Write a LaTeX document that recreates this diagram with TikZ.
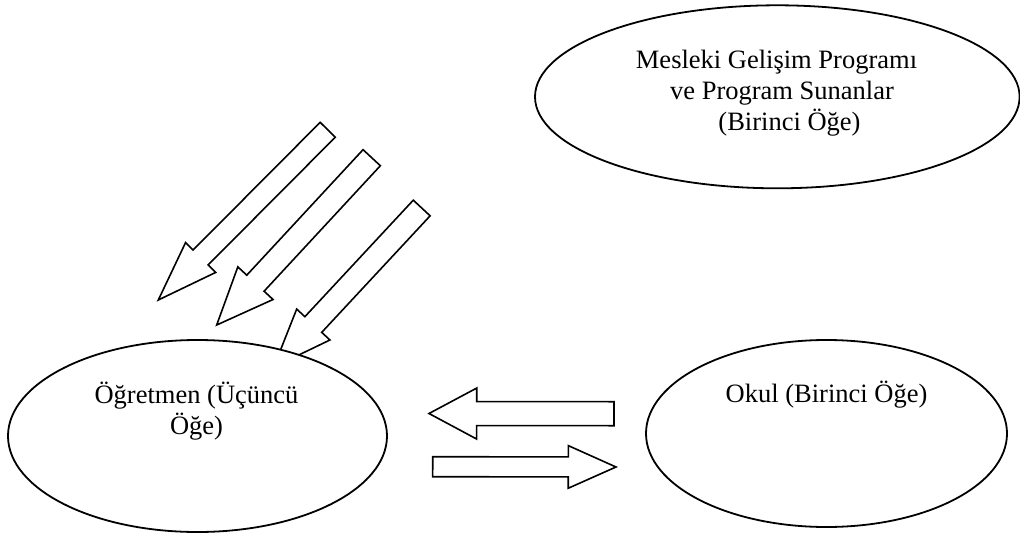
\documentclass[tikz,border=0pt]{standalone}
\usepackage{fontspec}
\setmainfont{Liberation Serif}
\usetikzlibrary{shapes.geometric,calc}

\tikzset{
  oval/.style={draw, ellipse, line width=1.8pt, fill=white, inner sep=0pt},
  ovaltext/.style={align=center, inner sep=0pt, anchor=base,
    font=\fontsize{26.5}{31}\selectfont},
  blockarrow/.style={draw, line width=1.6pt, fill=white, line join=miter},
}

% block arrow: tail, tip, half shaft width, half head width, head length
\newcommand{\fatarrow}[5]{%
  \coordinate (neck) at ($(#2)!#5!(#1)$);
  \draw[blockarrow] ($(#1)!#3!90:(#2)$) -- ($(neck)!#3!90:(#2)$)
    -- ($(neck)!#4!90:(#2)$) -- (#2) -- ($(neck)!#4!-90:(#2)$)
    -- ($(neck)!#3!-90:(#2)$) -- ($(#1)!#3!-90:(#2)$) -- cycle;
}

\begin{document}
\begin{tikzpicture}[x=1pt, y=-1pt]
\useasboundingbox (0,0) rectangle (1020,533);

% three slanted arrows into the teacher
\coordinate (t1) at (327.7,129.8); \coordinate (h1) at (158.3,300);
\coordinate (t2) at (371.7,157.7); \coordinate (h2) at (216.7,325);
\coordinate (t3) at (421.7,208);   \coordinate (h3) at (273.8,367);
\foreach \i/\s/\w/\l in {1/10.6pt/21.2pt/60pt, 2/11.8pt/24pt/57pt, 3/11.5pt/22.7pt/58pt}
{
  \fatarrow{t\i}{h\i}{\s}{\w}{\l}
}

% arrows between teacher and school
\coordinate (backtail) at (614,413.7);  \coordinate (backtip) at (429,413.5);
\coordinate (fwdtail) at (432.7,466.7); \coordinate (fwdtip) at (616,467);
\fatarrow{backtail}{backtip}{12pt}{25.5pt}{47.7pt}
\fatarrow{fwdtail}{fwdtip}{10pt}{21.3pt}{47.7pt}

\node[oval, minimum width=484.6, minimum height=183] (program) at (777.3,96.8) {};
\node[oval, minimum width=379, minimum height=192] (teacher) at (197.5,436) {};
\node[oval, minimum width=361, minimum height=187] (school) at (826.5,433.5) {};

% base anchor sits on the last line
\node[ovaltext] (programtext) at (776.5,130.3)
  {Mesleki Gelişim Programı\\\hspace*{11pt}ve Program Sunanlar\\\hspace*{26pt}(Birinci Öğe)};
\node[ovaltext] (teachertext) at (196.5,434.5) {Öğretmen (Üçüncü\\Öğe)};
\node[ovaltext] (schooltext) at (826.5,402.3) {Okul (Birinci Öğe)};

\end{tikzpicture}
\end{document}
